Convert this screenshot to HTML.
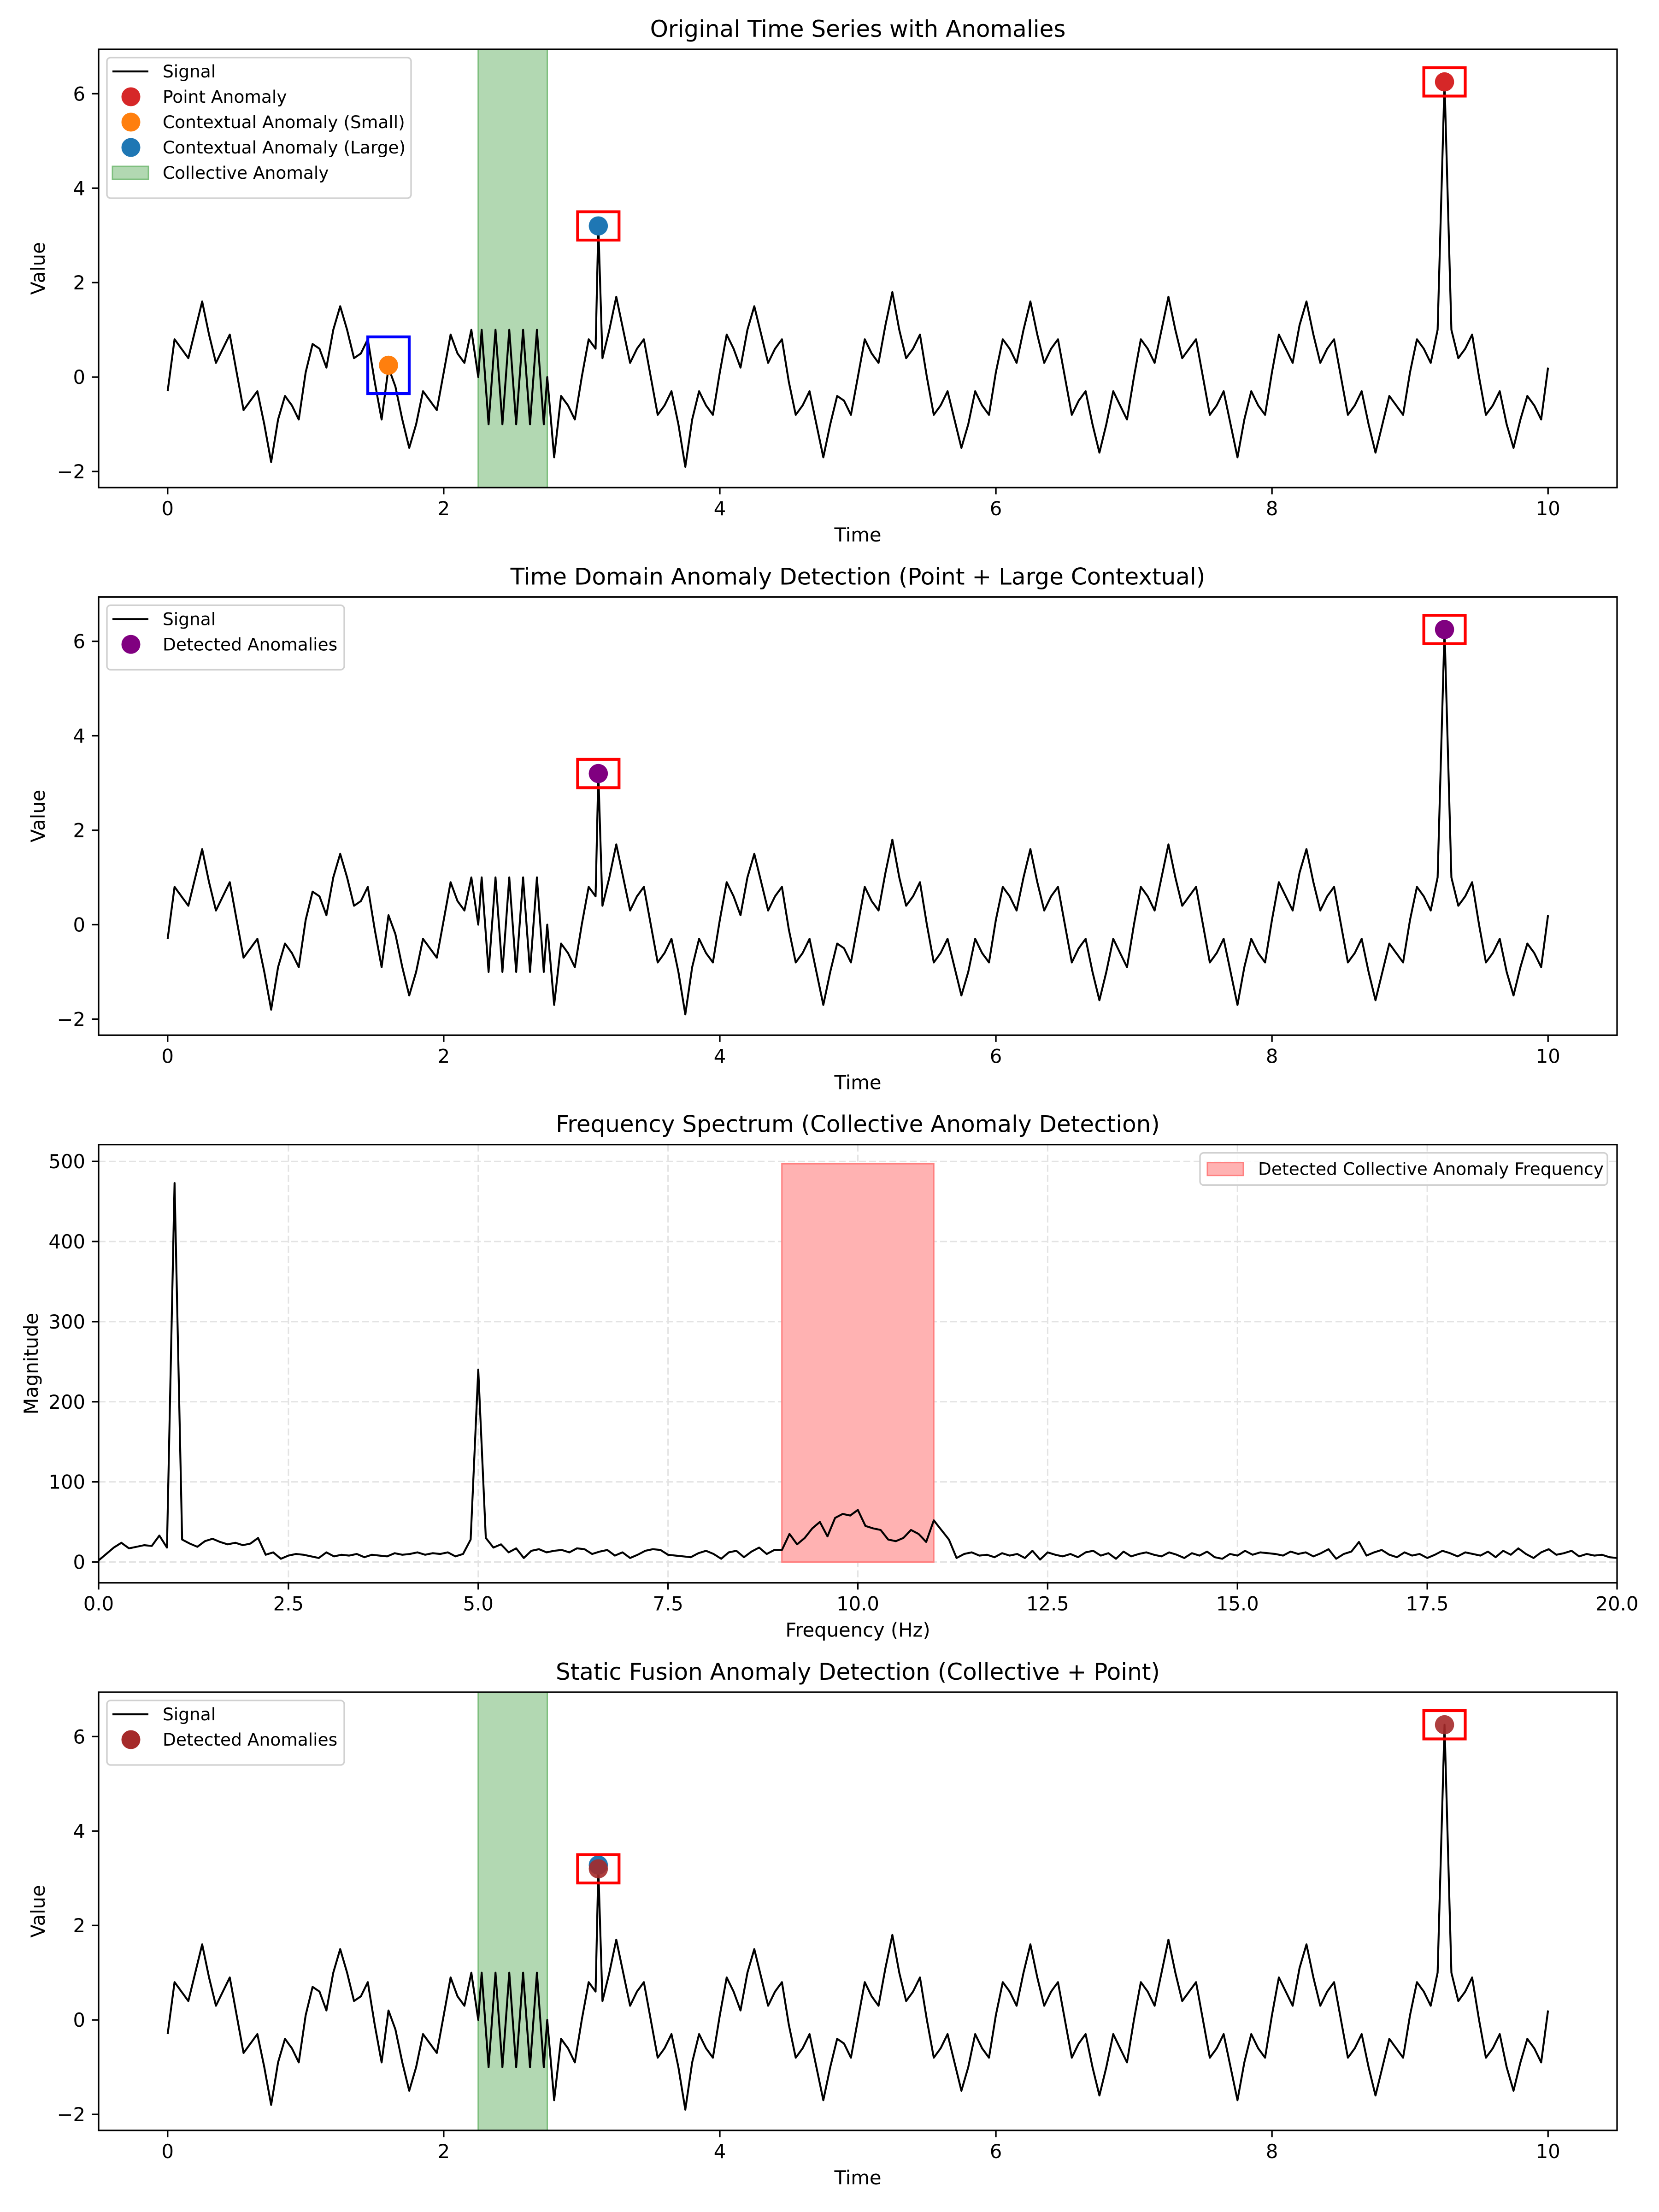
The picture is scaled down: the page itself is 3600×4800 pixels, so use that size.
<!DOCTYPE html>
<html><head><meta charset="utf-8"><style>
html,body{margin:0;padding:0;background:#fff;}
svg{display:block;font-family:"DejaVu Sans","Liberation Sans",sans-serif;}
</style></head><body>
<svg id="fig" width="3600" height="4800" viewBox="0 0 3600 4800" xmlns="http://www.w3.org/2000/svg"></svg>
<script>
// ---- data ----
const baseStep = 0.05;
const signalValues = [
-0.3,0.8,0.6,0.4,1.0,1.6,0.9,0.3,0.6,0.9,0.1,-0.7,-0.5,-0.3,-1.0,-1.8,-0.9,-0.4,-0.6,-0.9,
0.1,0.7,0.6,0.2,1.0,1.5,1.0,0.4,0.5,0.8,-0.1,-0.9,0.2,-0.2,-0.9,-1.5,-1.0,-0.3,-0.5,-0.7,
0.1,0.9,0.5,0.3,1.0,null,null,null,null,null,null,null,null,null,null,null,-1.7,-0.4,-0.6,-0.9,
0.0,0.8,0.6,0.4,1.0,1.7,1.0,0.3,0.6,0.8,0.0,-0.8,-0.6,-0.3,-1.0,-1.9,-0.9,-0.3,-0.6,-0.8,
0.1,0.9,0.6,0.2,1.0,1.5,0.9,0.3,0.6,0.8,-0.1,-0.8,-0.6,-0.3,-1.0,-1.7,-1.0,-0.4,-0.5,-0.8,
0.0,0.8,0.5,0.3,1.1,1.8,1.0,0.4,0.6,0.9,0.0,-0.8,-0.6,-0.3,-0.9,-1.5,-1.0,-0.3,-0.6,-0.8,
0.1,0.8,0.6,0.3,1.0,1.6,0.9,0.3,0.6,0.8,0.0,-0.8,-0.5,-0.3,-1.0,-1.6,-1.0,-0.3,-0.6,-0.9,
0.0,0.8,0.6,0.3,1.0,1.7,1.0,0.4,0.6,0.8,0.0,-0.8,-0.6,-0.3,-1.0,-1.7,-0.9,-0.3,-0.6,-0.8,
0.1,0.9,0.6,0.3,1.1,1.6,0.9,0.3,0.6,0.8,0.0,-0.8,-0.6,-0.3,-1.0,-1.6,-1.0,-0.4,-0.6,-0.8,
0.1,0.8,0.6,0.3,1.0,6.25,1.0,0.4,0.6,0.9,0.0,-0.8,-0.6,-0.3,-1.0,-1.5,-0.9,-0.4,-0.6,-0.9,
0.2];
const collectiveStart = 2.25;
const collectiveStep = 0.025;
const collectiveValues = [0,1,0,-1,0,1,0,-1,0,1,0,-1,0,1,0,-1,0,1,0,-1,0];
const spikeTimes = [3.12];
const spikeValues = [3.2];
const pointAnomaly = {t:9.25, v:6.25};
const contextLarge = {t:3.12, v:3.2};
const contextSmall = {t:1.6, v:0.25};
const collectiveRange = [2.25, 2.75];
const timeTicks = [0,2,4,6,8,10];
const valueTicks = [-2,0,2,4,6];
const freqStep = 0.1;
const spectrum = [
2,10,18,24,17,19,21,20,33,18,
473,28,23,19,26,29,25,22,24,21,
23,30,9,12,4,8,10,9,7,5,
12,7,9,8,10,6,9,8,7,11,
9,10,12,9,11,10,12,7,10,28,
240,30,18,22,12,17,5,14,16,12,
14,15,12,17,16,10,13,15,8,12,
5,9,14,16,15,9,8,7,6,11,
14,10,4,12,14,6,13,18,10,15,
15,35,22,30,42,50,32,55,60,58,
65,45,42,40,28,26,30,40,35,25,
52,40,28,5,10,12,8,9,6,11,
8,10,5,14,3,12,9,7,10,6,
12,14,8,11,4,13,7,10,12,9,
7,12,9,5,11,8,13,6,4,10,
8,14,9,12,11,10,8,13,10,12,
7,11,16,4,10,13,25,8,12,15,
9,6,12,8,10,5,9,14,11,7,
12,10,8,13,6,14,9,17,10,5,
12,16,9,11,14,7,10,8,9,6,
5];
const freqBand = [9, 11, 497];
const freqTicks = [0,2.5,5,7.5,10,12.5,15,17.5,20];
const magTicks = [0,100,200,300,400,500];

// ---- layout ----
const NS='http://www.w3.org/2000/svg';
const svg=document.getElementById('fig');
const L=214,R=3509,H=951;
const tops=[107,1295.3,2483.7,3672];
const TMIN=-0.5,TMAX=10.5,VMIN=-2.34,VMAX=6.94;
const FMIN=0,FMAX=20,MMIN=-26,MMAX=521;
function mk(tag,attrs,parent){const e=document.createElementNS(NS,tag);for(const k in attrs)e.setAttribute(k,attrs[k]);(parent||svg).appendChild(e);return e;}
function xt(t){return L+(t-TMIN)/(TMAX-TMIN)*(R-L);}
function yv(v,top){return top+(VMAX-v)/(VMAX-VMIN)*H;}
function xf(f){return L+(f-FMIN)/(FMAX-FMIN)*(R-L);}
function ym(m,top){return top+(MMAX-m)/(MMAX-MMIN)*H;}

// merged signal
const series=[];
signalValues.forEach((v,k)=>{if(v!==null)series.push([k*baseStep,v]);});
collectiveValues.forEach((v,j)=>series.push([collectiveStart+j*collectiveStep,v]));
spikeTimes.forEach((t,i)=>series.push([t,spikeValues[i]]));
series.sort((a,b)=>a[0]-b[0]);

function text(str,x,y,size,anchor,parent,extra){const e=mk('text',Object.assign({x:x,y:y,'font-size':size,'text-anchor':anchor||'middle',fill:'#000'},extra||{}),parent);e.textContent=str;return e;}

function clip(i,top){const d=mk('clipPath',{id:'clip'+i});mk('rect',{x:L,y:top,width:R-L,height:H},d);return 'url(#clip'+i+')';}

function timePanel(i,title,opts){
  const top=tops[i];
  const g=mk('g',{});
  
  
  const cp=clip(i,top);
  const plot=mk('g',{'clip-path':cp},g);
  
  
  if(opts.band){
    const b=mk('rect',{x:xt(collectiveRange[0]),y:top,width:xt(collectiveRange[1])-xt(collectiveRange[0]),height:H,fill:'#b2d8b2',stroke:'#7fbf7f','stroke-width':3},plot);
    
    
  }
  const d=series.map((p,j)=>(j?'L':'M')+xt(p[0]).toFixed(1)+' '+yv(p[1],top).toFixed(1)).join(' ');
  const line=mk('path',{d:d,fill:'none',stroke:'#000','stroke-width':4.2,'stroke-linejoin':'round'},plot);
  
  
  opts.markers.forEach(m=>{
    const c=mk('circle',{cx:xt(m.p.t),cy:yv(m.p.v,top),r:20.8,fill:m.c,'fill-opacity':m.a||1},plot);
    
    
  });
  opts.boxes.forEach(b=>{
    const r=mk('rect',{x:xt(b.p.t-0.15),y:yv(b.p.v+b.h,top),width:xt(b.p.t+0.15)-xt(b.p.t-0.15),height:yv(b.p.v-b.h,top)-yv(b.p.v+b.h,top),fill:'none',stroke:b.c,'stroke-width':6.2},plot);
    
    
  });
  const f=mk('rect',{x:L,y:top,width:R-L,height:H,fill:'none',stroke:'#000','stroke-width':3.3},g);
  
  
  timeTicks.forEach(t=>{
    mk('line',{x1:xt(t),x2:xt(t),y1:top+H,y2:top+H+14.6,stroke:'#000','stroke-width':3.3},g);
    const tl=text(String(t),xt(t),top+H+60,41.7,'middle',g);
    
    
  });
  valueTicks.forEach(v=>{
    mk('line',{x1:L-14.6,x2:L,y1:yv(v,top),y2:yv(v,top),stroke:'#000','stroke-width':3.3},g);
    const tl=text(v<0?'\u2212'+Math.abs(v):String(v),L-29,yv(v,top)+15,41.7,'end',g);
    
    
  });
  const xl=text('Time',(L+R)/2,top+H+117,41.7,'middle',g);
  
  
  const yl=text('Value',0,0,41.7,'middle',g,{transform:'translate(97,'+(top+H/2)+') rotate(-90)'});
  
  
  const tt=text(title,(L+R)/2,top-27,50,'middle',g);
  
  
  // legend
  const lg=mk('g',{},g);
  
  
  const n=opts.legend.length;
  mk('rect',{x:232,y:top+18,width:opts.lw,height:30+n*55,rx:8,fill:'#fff','fill-opacity':0.8,stroke:'#d0d0d0','stroke-width':3.3},lg);
  opts.legend.forEach((e,j)=>{
    const cy=top+48+j*55;
    const eg=mk('g',{},lg);
    
    
    if(e.type==='line')mk('line',{x1:244,x2:322,y1:cy,y2:cy,stroke:'#000','stroke-width':4.2},eg);
    else if(e.type==='patch')mk('rect',{x:244,y:cy-14,width:78,height:28,fill:'#b2d8b2',stroke:'#7fbf7f','stroke-width':3},eg);
    else mk('circle',{cx:284,cy:cy,r:20.5,fill:e.c},eg);
    text(e.label,353,cy+13,37.5,'start',eg);
  });
}

timePanel(0,'Original Time Series with Anomalies',{band:true,lw:660,
  markers:[{p:pointAnomaly,c:'#d62728',name:'point-anomaly-marker'},{p:contextSmall,c:'#ff7f0e',name:'small-contextual-marker'},{p:contextLarge,c:'#1f77b4',name:'large-contextual-marker'}],
  boxes:[{p:pointAnomaly,h:0.3,c:'#ff0000',name:'point-anomaly-box'},{p:contextLarge,h:0.3,c:'#ff0000',name:'large-contextual-box'},{p:contextSmall,h:0.6,c:'#0000ff',name:'small-contextual-box'}],
  legend:[{type:'line',label:'Signal'},{type:'dot',c:'#d62728',label:'Point Anomaly'},{type:'dot',c:'#ff7f0e',label:'Contextual Anomaly (Small)'},{type:'dot',c:'#1f77b4',label:'Contextual Anomaly (Large)'},{type:'patch',label:'Collective Anomaly'}]});
timePanel(1,'Time Domain Anomaly Detection (Point + Large Contextual)',{band:false,lw:515,
  markers:[{p:contextLarge,c:'#800080',name:'detected-anomaly-marker'},{p:pointAnomaly,c:'#800080',name:'detected-anomaly-marker'}],
  boxes:[{p:contextLarge,h:0.3,c:'#ff0000',name:'detected-box'},{p:pointAnomaly,h:0.3,c:'#ff0000',name:'detected-box'}],
  legend:[{type:'line',label:'Signal'},{type:'dot',c:'#800080',label:'Detected Anomalies'}]});
timePanel(3,'Static Fusion Anomaly Detection (Collective + Point)',{band:true,lw:515,
  markers:[{p:{t:contextLarge.t,v:contextLarge.v+0.08},c:'#1f77b4',name:'large-contextual-marker'},{p:contextLarge,c:'#a52a2a',a:0.9,name:'detected-anomaly-marker'},{p:pointAnomaly,c:'#a52a2a',a:0.9,name:'detected-anomaly-marker'}],
  boxes:[{p:contextLarge,h:0.3,c:'#ff0000',name:'detected-box'},{p:pointAnomaly,h:0.3,c:'#ff0000',name:'detected-box'}],
  legend:[{type:'line',label:'Signal'},{type:'dot',c:'#a52a2a',label:'Detected Anomalies'}]});

// spectrum panel
(function(){
  const top=tops[2];
  const g=mk('g',{});
  
  
  const cp=clip(2,top);
  const plot=mk('g',{'clip-path':cp},g);
  
  
  freqTicks.forEach(f=>{const gl=mk('line',{x1:xf(f),x2:xf(f),y1:top,y2:top+H,stroke:'#e3e3e3','stroke-width':3,'stroke-dasharray':'15 7'},plot);
    
    });
  magTicks.forEach(m=>{const gl=mk('line',{x1:L,x2:R,y1:ym(m,top),y2:ym(m,top),stroke:'#e3e3e3','stroke-width':3,'stroke-dasharray':'15 7'},plot);
    
    });
  const band=mk('rect',{x:xf(freqBand[0]),y:ym(freqBand[2],top),width:xf(freqBand[1])-xf(freqBand[0]),height:ym(0,top)-ym(freqBand[2],top),fill:'#ffb2b2',stroke:'#ff8080','stroke-width':3},plot);
  
  
  const d=spectrum.map((m,j)=>(j?'L':'M')+xf(j*freqStep).toFixed(1)+' '+ym(m,top).toFixed(1)).join(' ');
  const line=mk('path',{d:d,fill:'none',stroke:'#000','stroke-width':4.2,'stroke-linejoin':'round'},plot);
  
  
  const f=mk('rect',{x:L,y:top,width:R-L,height:H,fill:'none',stroke:'#000','stroke-width':3.3},g);
  
  
  freqTicks.forEach(fq=>{
    mk('line',{x1:xf(fq),x2:xf(fq),y1:top+H,y2:top+H+14.6,stroke:'#000','stroke-width':3.3},g);
    const tl=text(fq.toFixed(1),xf(fq),top+H+60,41.7,'middle',g);
    
    
  });
  magTicks.forEach(m=>{
    mk('line',{x1:L-14.6,x2:L,y1:ym(m,top),y2:ym(m,top),stroke:'#000','stroke-width':3.3},g);
    const tl=text(String(m),L-29,ym(m,top)+15,41.7,'end',g);
    
    
  });
  const xl=text('Frequency (Hz)',(L+R)/2,top+H+117,41.7,'middle',g);
  
  
  const yl=text('Magnitude',0,0,41.7,'middle',g,{transform:'translate(82,'+(top+H/2)+') rotate(-90)'});
  
  
  const tt=text('Frequency Spectrum (Collective Anomaly Detection)',(L+R)/2,top-27,50,'middle',g);
  
  
  const lg=mk('g',{},g);
  
  
  mk('rect',{x:2604,y:top+18,width:884,height:70,rx:8,fill:'#fff','fill-opacity':0.8,stroke:'#d0d0d0','stroke-width':3.3},lg);
  mk('rect',{x:2620,y:top+39,width:78,height:28,fill:'#ffb2b2',stroke:'#ff8080','stroke-width':3},lg);
  text('Detected Collective Anomaly Frequency',2730,top+66,37.5,'start',lg);
})();
</script>
</body></html>
